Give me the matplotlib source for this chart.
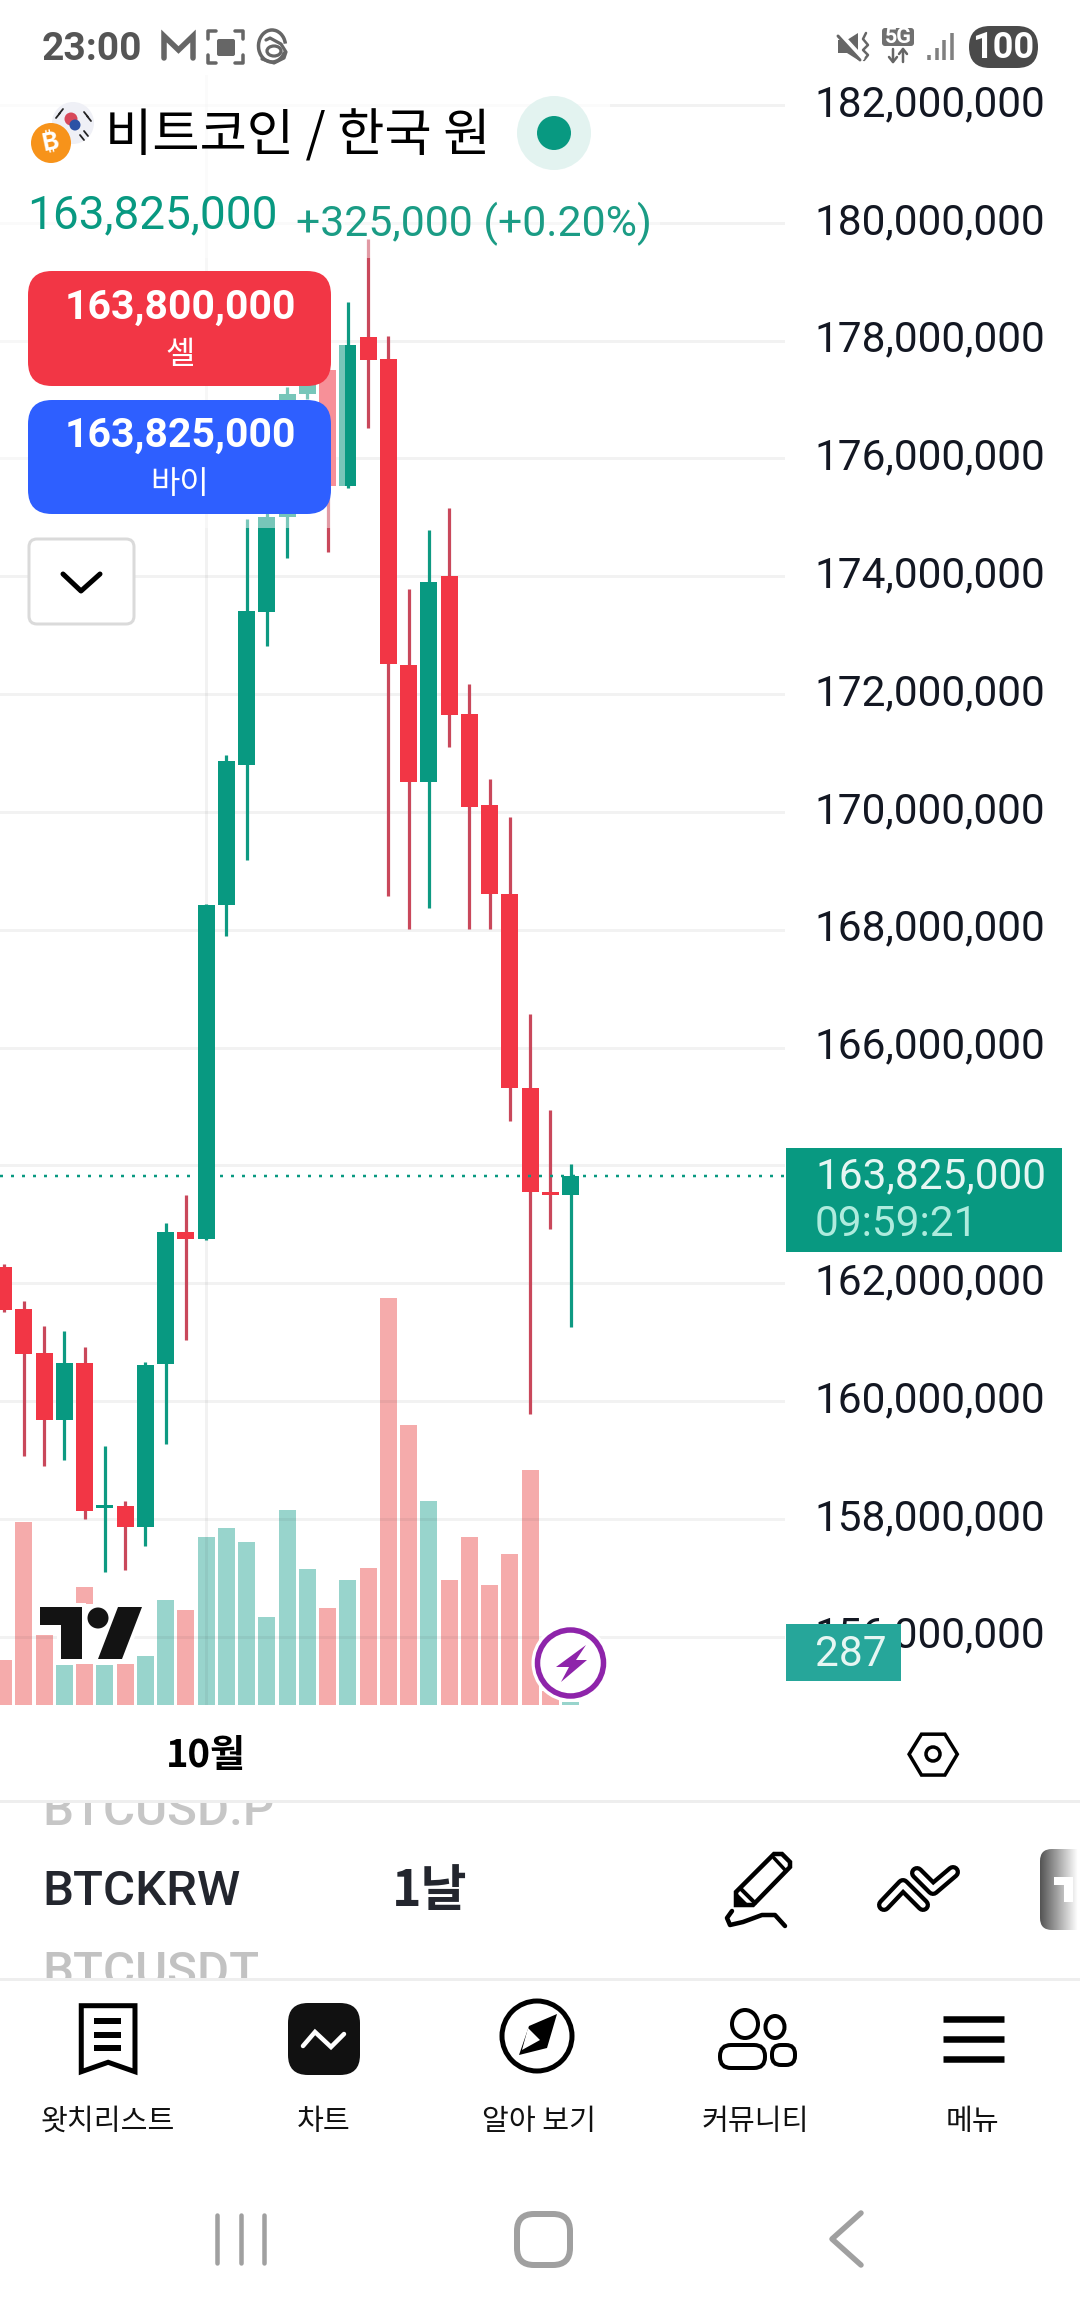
import numpy as np
import matplotlib
matplotlib.use('Agg')
import matplotlib.pyplot as plt
from matplotlib.patches import Arc, Circle, Ellipse, FancyBboxPatch, Polygon, Rectangle
from matplotlib.transforms import ScaledTranslation

plt.rcParams['font.family'] = ['Roboto', 'Noto Sans CJK KR', 'DejaVu Sans']

########## Data ##########

# daily candles, millions of KRW
opens = [162.28, 161.57, 160.82, 159.68, 160.65, 158.18, 158.21, 157.87, 160.63, 162.87,
         162.75, 168.42, 170.79, 173.40, 175.01, 177.10, 177.50, 175.54, 178.06, 177.69,
         172.49, 170.50, 174.01, 171.66, 170.12, 168.61, 165.31, 163.54, 163.50]
closes = [161.55, 160.80, 159.68, 160.65, 158.14, 158.22, 157.87, 160.62, 162.87, 162.75,
          168.42, 170.87, 173.41, 175.01, 177.10, 177.45, 175.54, 177.93, 177.67, 172.51,
          170.50, 173.90, 171.65, 170.08, 168.60, 165.31, 163.54, 163.50, 163.825]
highs = [162.33, 161.70, 161.28, 161.19, 160.92, 159.24, 158.31, 160.67, 163.03, 163.50,
         168.44, 170.97, 174.97, 175.13, 177.21, 177.70, 177.90, 178.65, 179.73, 178.08,
         173.79, 174.79, 175.16, 172.17, 170.56, 169.92, 166.57, 164.94, 164.03]
lows = [161.51, 159.07, 158.90, 159.00, 158.00, 157.10, 157.14, 157.54, 159.27, 161.04,
        162.73, 167.90, 169.19, 172.82, 174.31, 177.01, 174.41, 175.50, 176.51, 168.57,
        168.01, 168.37, 171.10, 168.01, 168.01, 164.76, 159.78, 162.92, 161.26]
volumes = [4300, 17400, 6650, 3800, 11200, 3800, 3900, 4650, 9980, 9030,
           15960, 16800, 15500, 8360, 18500, 12900, 9200, 11900, 13000, 38670,
           26600, 19400, 11900, 15960, 11400, 14350, 22300, 1330, 287]
price_ticks = [156, 158, 160, 162, 164, 166, 168, 170, 172, 174, 176, 178, 180, 182]
month_tick = 10
month_label = "10월"
last_price = 163.825

nav_labels = ["왓치리스트", "차트", "알아 보기", "커뮤니티", "메뉴"]

########## Colours ##########

GREEN = '#089981'
RED = '#F23645'
RED_WICK = '#C9485B'
GREEN_WICK = '#0E9A82'
VOL_RED = '#F5ABAB'
VOL_GREEN = '#98D4CC'
INK = '#131722'
NAV_GREY = '#A0A0A0'
STATUS = '#666666'

W, H = 1080, 2316
PT = 72 / 100  # px to points at dpi 100

fig = plt.figure(figsize=(W / 100, H / 100), dpi=100, facecolor='white')


def px_axes(left, top, right, bottom, **kw):
    return fig.add_axes([left / W, 1 - bottom / H, (right - left) / W, (bottom - top) / H], **kw)


########## Volume ##########

x = np.arange(len(opens))
opens_a, closes_a = np.array(opens), np.array(closes)
up = closes_a >= opens_a
xlim = (-0.173, 38.59)

vol_ax = px_axes(0, 900, 785, 1705, zorder=1)
vol_ax.bar(x, volumes, width=0.84, color=[VOL_GREEN if u else VOL_RED for u in up])
vol_ax.set_xlim(xlim)
vol_ax.set_ylim(0, 76475)
vol_ax.axis('off')

########## Candles ##########

ax = px_axes(0, 75, 785, 1705, zorder=2)
ax.patch.set_alpha(0)
ax.set_xlim(xlim)
ax.set_ylim(154.84, 182.51)

ax.vlines(x, lows, highs, colors=[GREEN_WICK if u else RED_WICK for u in up],
          linewidth=3.2 * PT, zorder=3)
body_bottom = np.minimum(opens_a, closes_a)
body_height = np.maximum(np.abs(closes_a - opens_a), 0.05)
ax.bar(x, body_height, bottom=body_bottom, width=0.84,
       color=[GREEN if u else RED for u in up], zorder=4)
ax.axhline(last_price, color=GREEN, linewidth=2.5 * PT, linestyle=(0, (1.2, 3.2)), zorder=5)

# the 164M label sits under the last price tag
ax.set_yticks(price_ticks)
ax.set_yticklabels(["" if p == 164 else f"{p * 1000000:,}" for p in price_ticks],
                   fontsize=30.5, color=INK)
ax.yaxis.tick_right()
ax.set_xticks([month_tick])
ax.set_xticklabels([month_label], fontsize=27.5, fontweight='bold', color='black',
                   family=['Noto Sans CJK KR'])
ax.tick_params(axis='both', length=0)
ax.tick_params(axis='y', pad=21)
ax.tick_params(axis='x', pad=22.5)
ax.grid(True, color='#1A1A1A', alpha=0.055, linewidth=3 * PT)
ax.set_axisbelow(True)
for s in ax.spines.values():
    s.set_visible(False)
shift = ScaledTranslation(0, 5 / 100, fig.dpi_scale_trans)
for tl in ax.get_yticklabels():
    tl.set_transform(tl.get_transform() + shift)

########## App chrome, in screen pixels ##########

ui = fig.add_axes([0, 0, 1, 1], zorder=3)
ui.set_xlim(0, W)
ui.set_ylim(H, 0)
ui.axis('off')


def box(x0, y0, x1, y1, r, fc, ec='none', lw=0, z=2):
    p = FancyBboxPatch((x0 + r, y0 + r), x1 - x0 - 2 * r, y1 - y0 - 2 * r,
                       boxstyle=f"round,pad={r}", fc=fc, ec=ec, lw=lw * PT, zorder=z)
    ui.add_patch(p)
    return p


def line(xs, ys, color='black', lw=4, z=5, **kw):
    ui.plot(xs, ys, color=color, lw=lw * PT, zorder=z, solid_capstyle=kw.pop('cap', 'round'),
            solid_joinstyle=kw.pop('join', 'round'), **kw)


def label(tx, ty, s, size, color=INK, ha='left', weight='normal', z=6, **kw):
    return ui.text(tx, ty, s, fontsize=size, color=color, ha=ha, va='center',
                   fontweight=weight, zorder=z, **kw)


def z3(points):
    return [(a / 1.452, 1700 + b / 2.545) for a, b in points]


# white veil behind the header and the order buttons
ui.add_patch(Rectangle((0, 75), 610, 115, fc='white', alpha=0.75, ec='none', zorder=1))
ui.add_patch(Rectangle((0, 190), 345, 338, fc='white', alpha=0.45, ec='none', zorder=1))
ui.add_patch(Rectangle((0, 190), 660, 68, fc='white', alpha=0.45, ec='none', zorder=1))
ui.add_patch(Rectangle((0, 0), W, 75, fc='white', ec='none', zorder=1))

# status bar
label(42, 49, "23:00", 28, color='#555555', weight='bold')
line([164, 164, 178.5, 193, 193], [58, 36, 50, 36, 58], color=STATUS, lw=5.5, join='miter')
for cx, cy, dx, dy in [(208, 31, 1, 1), (243, 31, -1, 1), (208, 63, 1, -1), (243, 63, -1, -1)]:
    line([cx, cx, cx + dx * 8], [cy + dy * 8, cy, cy], color=STATUS, lw=3.5)
box(217, 39, 235, 56, 2, STATUS, z=5)
ui.add_patch(Arc((272, 46), 27, 32, theta1=25, theta2=350, ec=STATUS, lw=3.5 * PT, zorder=5))
ui.add_patch(Ellipse((274, 51), 14, 10, fc='none', ec=STATUS, lw=3.2 * PT, zorder=5))
line([266, 270, 281, 286, 284, 274, 262], [40, 38, 44, 52, 58, 63, 59], color=STATUS, lw=3.2)
ui.add_patch(Polygon([(838, 40), (847, 40), (858, 33), (858, 60), (847, 53), (838, 53)],
                     fc=STATUS, ec='none', zorder=5))
line([840, 862], [34, 58], color='white', lw=5, z=6)
line([838, 860], [36, 60], color=STATUS, lw=3, z=6)
line([866, 863, 868, 863, 868, 864], [33, 39, 45, 50, 55, 60], color=STATUS, lw=2.5)
box(882, 28, 914, 46, 3, '#707070')
label(898, 37, "5G", 15.5, color='white', ha='center', weight='bold')
line([893, 893], [49, 62], color=STATUS, lw=2.5)
line([889, 893, 897], [57, 62, 57], color=STATUS, lw=2.5)
line([903, 903], [49, 62], color=STATUS, lw=2.5)
line([899, 903, 907], [54, 49, 54], color=STATUS, lw=2.5)
for i, bar_top in enumerate([55, 48, 40, 33]):
    line([929 + i * 7.7, 929 + i * 7.7], [60, bar_top], color='#808080', lw=3.5, cap='butt')
box(969, 26, 1038, 68, 21, '#4A4A4A')
label(1003.5, 48, "100", 26, color='white', ha='center', weight='bold')

# title row
ui.add_patch(Circle((73, 123), 21, fc='#EFF0F6', ec='none', zorder=3))
ui.add_patch(Circle((71, 119), 6.5, fc='#D8485A', ec='none', zorder=4))
ui.add_patch(Circle((75, 125), 5.5, fc='#2B52A5', ec='none', zorder=4))
for a, b in [(56, 118), (59, 114), (84, 112), (87, 116), (80, 135), (84, 131)]:
    line([a, a + 4], [b, b - 5] if a < 70 else [b, b + 5], color='#222222', lw=1.8, z=4)
ui.add_patch(Circle((51, 143), 20, fc='#F7931A', ec='none', zorder=5))
label(51, 143, "₿", 18, color='white', ha='center', weight='bold', rotation=12,
      family=['Inter', 'Noto Sans', 'Liberation Sans', 'Open Sans', 'Lato', 'DejaVu Sans'])
label(105, 137, "비트코인 / 한국 원", 37, color='black', family=['Noto Sans CJK KR'])
ui.add_patch(Circle((554, 133), 37, fc='#E3F3F0', ec='none', zorder=3))
ui.add_patch(Circle((554, 133), 17, fc=GREEN, ec='none', zorder=4))
label(27, 215, "163,825,000", 33, color=GREEN)
label(296, 224, "+325,000 (+0.20%)", 30.8, color='#1B9C85')

# sell / buy buttons
box(28, 271, 331, 386, 24, RED)
label(180, 308, "163,800,000", 29.5, color='white', ha='center', weight='bold')
label(180, 355, "셀", 23, color='white', ha='center', family=['Noto Sans CJK KR'])
box(28, 400, 331, 514, 24, '#2E5FFF')
label(180, 436, "163,825,000", 29.5, color='white', ha='center', weight='bold')
label(180, 484, "바이", 23, color='white', ha='center', family=['Noto Sans CJK KR'])
box(29, 539, 134, 624, 8, 'white', ec='#DADADA', lw=3)
line([63, 81, 100], [574, 591, 574], lw=5)

# price tags
ui.add_patch(Rectangle((786, 1148), 276, 104, fc=GREEN, ec='none', zorder=3))
label(815, 1177, "163,825,000", 30.5, color='#E6F6F3')
label(815, 1224, "09:59:21", 30.5, color='#AEEBDD')
ui.add_patch(Rectangle((786, 1624), 115, 57, fc='#26A69A', ec='none', zorder=3))
label(815, 1654, "287", 30.5, color='#E6F6F3')

# logo, white halo first
ui.add_patch(Rectangle((60, 1604), 66, 60, fc='white', ec='none', zorder=3))
t_shape = [(40, 1607), (82, 1607), (82, 1659), (61, 1659), (61, 1625), (40, 1625)]
slash = [(118, 1607), (142, 1607), (122, 1659), (98, 1659)]
for shape in [t_shape, slash]:
    ui.add_patch(Polygon(shape, fc='white', ec='white', lw=8 * PT, zorder=3.5))
    ui.add_patch(Polygon(shape, fc='#131313', ec='none', zorder=4))
ui.add_patch(Circle((98, 1618), 10.5, fc='#131313', ec='none', zorder=4))

# lightning badge
ui.add_patch(Circle((570.5, 1663), 39, fc='white', ec='none', zorder=4))
ui.add_patch(Circle((570.5, 1663), 33, fc='white', ec='#8E24AA', lw=5.5 * PT, zorder=5))
ui.add_patch(Polygon([(586, 1645), (576, 1660), (587, 1660), (561, 1682), (569, 1667), (556, 1667)],
                     fc='#8E24AA', ec='none', zorder=6))

# settings hexagon on the time axis
hexagon = z3([(1320, 138), (1338, 87), (1372, 87), (1390, 138), (1372, 191), (1338, 191)])
ui.add_patch(Polygon(hexagon, fc='white', ec='black', lw=3.5 * PT, zorder=5))
ui.add_patch(Ellipse((933, 1754), 14, 14, fc='white', ec='black', lw=3.5 * PT, zorder=6))

# symbol row
line([0, W], [1801, 1801], color='#EEEEEE', lw=3, z=3)
line([0, W], [1979, 1979], color='#EEEEEE', lw=3, z=3)
clip_a = Rectangle((0, 1803), W, 24, transform=ui.transData)
clip_b = Rectangle((0, 1950), W, 28, transform=ui.transData)
t = label(42, 1812, "BTCUSD.P", 35.5, color='#C6C6C6', weight='medium')
t.set_clip_path(clip_a)
t.set_clip_on(True)
t = label(42, 1973, "BTCUSDT", 35.5, color='#C2C2C2', weight='medium')
t.set_clip_path(clip_b)
t.set_clip_on(True)
label(42, 1892, "BTCKRW", 35.5, color='#23262E', weight='medium')
label(392, 1892, "1날", 36, color='#23262E', weight='bold', family=['Noto Sans CJK KR'])

# pencil
pencil = [(736, 1905), (736, 1892), (774, 1854), (782, 1854), (790, 1862), (790, 1867), (753, 1905)]
ui.add_patch(Polygon(pencil, fc='white', ec='black', lw=4.5 * PT, zorder=5))
line([774, 786], [1858, 1871], lw=3.5, z=6)
line([741, 755], [1889, 1903], lw=4, z=6)
ui.add_patch(Polygon([(736, 1892), (736, 1905), (749, 1905)], fc='black', ec='none', zorder=6))
line([732, 727, 730, 743, 762, 775, 785], [1911, 1918, 1925, 1922, 1915, 1915, 1926], lw=4.5)

# indicators
for xs, ys in [([884, 903, 923], [1905, 1885, 1905]), ([917, 933, 953], [1873, 1889, 1872])]:
    line(xs, ys, lw=14)
    line(xs, ys, color='white', lw=5.5, z=6)

# scroll tab at the right edge
grad = np.linspace(0.33, 1, 64).reshape(1, -1)
im = ui.imshow(grad, cmap='gray', vmin=0, vmax=1, extent=(1040, 1078, 1930, 1849), aspect='auto', zorder=4)
tab = box(1040, 1849, 1100, 1930, 12, 'none')
im.set_clip_path(tab)
ui.add_patch(Polygon([(1054, 1877), (1073, 1877), (1073, 1902), (1064, 1902), (1064, 1885), (1054, 1885)],
                     fc='white', ec='none', zorder=5))
ui.set_xlim(0, W)
ui.set_ylim(H, 0)

# bottom navigation
mark = z3([(118, 778), (196, 778), (196, 946), (157, 922), (118, 946)])
ui.add_patch(Polygon(mark, fc='white', ec='black', lw=5 * PT, zorder=5))
for by in [2021, 2035, 2048]:
    line([94, 121], [by, by], lw=6, cap='butt')
box(288, 2003, 360, 2075, 20, '#111111')
line([303, 315, 331, 344], [2046, 2032, 2047, 2034], color='white', lw=4.5, z=6, join='miter')
ui.add_patch(Circle((537, 2036), 35, fc='white', ec='black', lw=5 * PT, zorder=5))
ui.add_patch(Polygon([(557, 2014), (547, 2048), (519, 2055), (529, 2026)], fc='black', ec='none', zorder=6))
ui.add_patch(Polygon([(528, 2028), (540, 2040), (522, 2050)], fc='white', ec='none', zorder=7))
ui.add_patch(Ellipse((745, 2024), 26, 28, fc='white', ec='black', lw=4 * PT, zorder=5))
ui.add_patch(Ellipse((775, 2027), 19, 22, fc='white', ec='black', lw=4 * PT, zorder=5))
box(772, 2045, 795, 2065, 9, 'white', ec='black', lw=4, z=5)
box(720, 2045, 765, 2068, 11, 'white', ec='black', lw=4, z=6)
for by in [2018.5, 2039, 2059]:
    line([943, 1004], [by, by], lw=6.5, cap='butt')

for lx, s in zip([108, 324, 539, 755, 972], nav_labels):
    label(lx, 2122, s, 21, color='#111111', ha='center', weight='medium', family=['Noto Sans CJK KR'])

# system buttons
for bx in [217, 241, 264]:
    line([bx, bx], [2215, 2263], color=NAV_GREY, lw=4.5)
box(517, 2214, 570, 2265, 17, 'white', ec=NAV_GREY, lw=6)
line([861, 832, 861], [2213, 2239, 2265], color=NAV_GREY, lw=5.5)

fig.savefig('out.png', dpi=100, facecolor='white')
